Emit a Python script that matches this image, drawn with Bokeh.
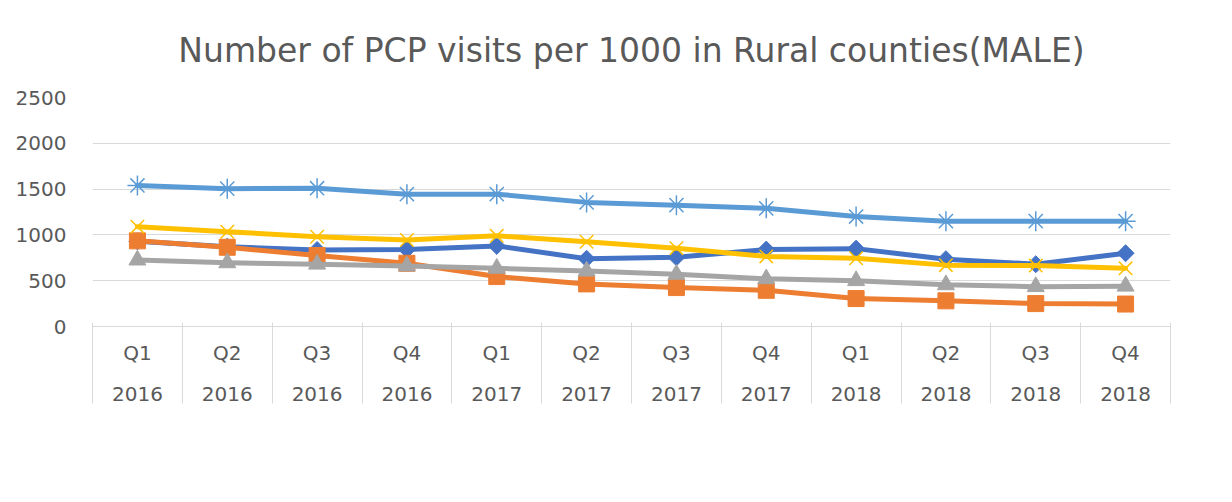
from bokeh.plotting import figure
from bokeh.models import (Range1d, LinearAxis, FixedTicker, Legend, LegendItem)
from bokeh.embed import file_html
from bokeh.resources import INLINE

# ---- data ----
quarters = ["Q1", "Q2", "Q3", "Q4"] * 3
years = ["2016"] * 4 + ["2017"] * 4 + ["2018"] * 4

s_0_20 = [930, 870, 835, 840, 880, 740, 755, 840, 850, 735, 680, 800]
s_21_30 = [935, 865, 775, 690, 545, 465, 425, 395, 305, 280, 250, 245]
s_31_40 = [725, 695, 680, 660, 635, 605, 570, 520, 500, 455, 435, 440]
s_51_64 = [1540, 1505, 1510, 1445, 1445, 1355, 1325, 1290, 1200, 1150, 1150, 1150]
s_41_50 = [1090, 1035, 980, 945, 990, 925, 855, 765, 745, 670, 665, 635]

y_ticks = [0, 500, 1000, 1500, 2000, 2500]
title_text = "Number of PCP visits per 1000 in Rural counties(MALE)"

# ---- styling ----
FONT = "DejaVu Sans"
TXT = "#595959"
GRID = "#d9d9d9"
FS = "20px"

n = len(quarters)
idx = list(range(n))                      # category index of each period
bounds = [i - 0.5 for i in range(n + 1)]  # category boundaries

p = figure(width=1232, height=502, frame_width=1078, frame_height=229,
           output_backend="svg", toolbar_location=None,
           x_range=Range1d(-0.5, n - 0.5), y_range=Range1d(0, 2500),
           x_axis_location=None,
           min_border_left=92, min_border_right=62, min_border_top=97,
           min_border_bottom=0)
p.outline_line_color = None
p.background_fill_color = "white"
p.border_fill_color = "white"

p.title.text = title_text
p.title.text_font = FONT
p.title.text_font_size = "33px"
p.title.text_font_style = "normal"
p.title.text_color = TXT
p.title.align = "center"
p.title.offset = 0
p.title.standoff = 56

# y axis
p.yaxis.ticker = FixedTicker(ticks=y_ticks)
p.yaxis.axis_line_color = None
p.yaxis.major_tick_line_color = None
p.yaxis.minor_tick_line_color = None
p.yaxis.major_tick_out = 0
p.yaxis.major_label_standoff = 26
p.yaxis.major_label_text_font = FONT
p.yaxis.major_label_text_font_size = FS
p.yaxis.major_label_text_color = TXT
p.ygrid.ticker = FixedTicker(ticks=y_ticks)
p.ygrid.grid_line_color = GRID
p.ygrid.grid_line_width = 1
p.xgrid.visible = False

ax_q = LinearAxis(ticker=FixedTicker(ticks=idx),
                  major_label_overrides={i: q for i, q in enumerate(quarters)},
                  major_tick_line_color=None, major_tick_in=0, major_tick_out=0,
                  minor_tick_line_color=None,
                  axis_line_color=GRID, major_label_standoff=14,
                  major_label_text_font=FONT, major_label_text_font_size=FS,
                  major_label_text_color=TXT)
ax_y = LinearAxis(ticker=FixedTicker(ticks=idx),
                  major_label_overrides={i: y for i, y in enumerate(years)},
                  major_tick_line_color=None, major_tick_in=0, major_tick_out=0,
                  minor_tick_line_color=None, axis_line_color=None,
                  major_label_standoff=19,
                  major_label_text_font=FONT, major_label_text_font_size=FS,
                  major_label_text_color=TXT)
# category separators of the table-style axis, drawn upward from below
ax_sep = LinearAxis(ticker=FixedTicker(ticks=[], minor_ticks=bounds),
                    major_tick_line_color=None, major_tick_in=0, major_tick_out=25,
                    minor_tick_line_color=GRID, minor_tick_in=81, minor_tick_out=0,
                    axis_line_color=None, major_label_standoff=0)
p.add_layout(ax_q, "below")
p.add_layout(ax_y, "below")
p.add_layout(ax_sep, "below")

series = [
    ("0-20", s_0_20, "#4472C4", "square", 12, 0.785398),
    ("21-30", s_21_30, "#ED7D31", "square", 16, 0.0),
    ("31-40", s_31_40, "#A5A5A5", "triangle", 17, 0.0),
    ("51-64", s_51_64, "#5B9BD5", "asterisk", 20, 0.0),
    ("41-50", s_41_50, "#FFC000", "x", 19, 0.0),
]

items = []
for label, vals, color, marker, size, ang in series:
    r_line = p.line(x=idx, y=vals, line_color=color, line_width=5,
                    line_join="round", line_cap="round")
    r_mark = p.scatter(x=idx, y=vals, marker=marker, size=size, angle=ang,
                       fill_color=color, line_color=color,
                       line_width=1.5 if marker in ("asterisk", "x") else 1)
    items.append(LegendItem(label=label, renderers=[r_line, r_mark]))

legend = Legend(items=items, orientation="horizontal", location="center",
                glyph_width=61, glyph_height=20, label_standoff=4, spacing=29,
                label_text_font=FONT, label_text_font_size=FS,
                label_text_color=TXT, border_line_color=None,
                background_fill_alpha=0, padding=0, margin=26)
p.add_layout(legend, "below")

open("out.html", "w").write(file_html(p, INLINE))
